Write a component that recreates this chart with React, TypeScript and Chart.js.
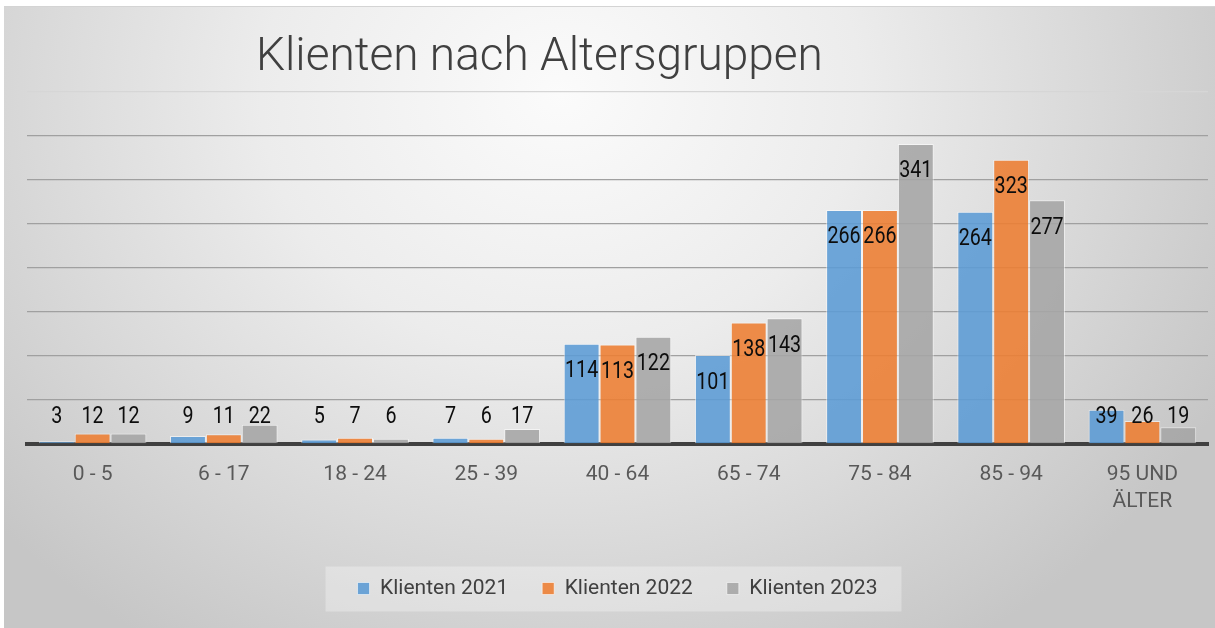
import React, { useEffect, useRef } from "react";
import { Chart, registerables } from "chart.js";

Chart.register(...registerables);

const TITLE = "Klienten nach Altersgruppen";
const categories: (string | string[])[] = [
  "0 - 5",
  "6 - 17",
  "18 - 24",
  "25 - 39",
  "40 - 64",
  "65 - 74",
  "75 - 84",
  "85 - 94",
  ["95 UND", "ÄLTER"],
];
const seriesNames = ["Klienten 2021", "Klienten 2022", "Klienten 2023"];
const klienten2021 = [3, 9, 5, 7, 114, 101, 266, 264, 39];
const klienten2022 = [12, 11, 7, 6, 113, 138, 266, 323, 26];
const klienten2023 = [12, 22, 6, 17, 122, 143, 341, 277, 19];
const seriesValues = [klienten2021, klienten2022, klienten2023];
const seriesColors = [
  "rgba(91,155,213,0.88)",
  "rgba(237,125,49,0.88)",
  "rgba(165,165,165,0.88)",
];
const yMax = 400;
const yStep = 50;

const FONT = "Roboto, 'Liberation Sans', sans-serif";

const valueLabels = {
  id: "valueLabels",
  afterDatasetsDraw(chart: any) {
    const ctx = chart.ctx as CanvasRenderingContext2D;
    ctx.save();
    ctx.font = "400 24px " + FONT;
    ctx.fillStyle = "#0d0d0d";
    ctx.textAlign = "center";
    ctx.textBaseline = "middle";
    chart.data.datasets.forEach((ds: any, di: number) => {
      const meta = chart.getDatasetMeta(di);
      meta.data.forEach((bar: any, i: number) => {
        const { x, y, base } = bar.getProps(["x", "y", "base"], true);
        const cy = Math.min(y + 27.5, base - 26);
        ctx.save();
        ctx.translate(x, cy);
        ctx.scale(0.82, 1);
        ctx.fillText(String(ds.data[i]), 0, 0);
        ctx.restore();
      });
    });
    ctx.restore();
  },
};

const legendBackground = {
  id: "legendBackground",
  beforeDraw(chart: any) {
    const lg = chart.legend;
    if (!lg || !lg.legendHitBoxes || !lg.legendHitBoxes.length) return;
    const hb = lg.legendHitBoxes;
    const first = hb[0];
    const last = hb[hb.length - 1];
    const left = first.left - 32;
    const right = last.left + last.width + 24;
    const mid = first.top + first.height / 2;
    const ctx = chart.ctx as CanvasRenderingContext2D;
    ctx.save();
    ctx.fillStyle = "rgba(255,255,255,0.3)";
    ctx.fillRect(left, mid - 22, right - left, 45);
    ctx.restore();
  },
};

const titleShift = {
  id: "titleShift",
  afterLayout(chart: any) {
    const tb = chart.titleBlock;
    if (tb) {
      tb.left = 256;
      tb.right = 1215;
    }
  },
};

export default function App() {
  const ref = useRef<HTMLCanvasElement>(null);

  useEffect(() => {
    if (!ref.current) return;
    const chart = new Chart(ref.current, {
      type: "bar",
      data: {
        labels: categories,
        datasets: seriesNames.map((name, i) => ({
          label: name,
          data: seriesValues[i],
          backgroundColor: seriesColors[i],
          borderColor: "rgba(255,255,255,0.55)",
          borderWidth: 1,
          categoryPercentage: 0.82,
          barPercentage: 1,
        })),
      },
      options: {
        responsive: false,
        animation: false,
        layout: { padding: { left: 27, right: 7, top: 0, bottom: 19 } },
        plugins: {
          title: {
            display: true,
            text: TITLE,
            align: "start",
            color: "#404040",
            font: { family: FONT, size: 46, weight: "300", lineHeight: 1.2 },
            padding: { top: 30.5, bottom: 6.3 },
          },
          legend: {
            position: "bottom",
            labels: {
              boxWidth: 12,
              boxHeight: 12,
              padding: 34,
              color: "#404040",
              font: { family: FONT, size: 21 },
            },
          },
          tooltip: { enabled: false },
        },
        scales: {
          x: {
            grid: { display: false, drawTicks: false },
            border: { display: true, color: "#404040", width: 4 },
            ticks: {
              color: "#595959",
              font: { family: FONT, size: 21, lineHeight: 1.25 },
              padding: 18,
              maxRotation: 0,
              autoSkip: false,
            },
            afterFit: (s: any) => {
              s.height = 100;
            },
          },
          y: {
            min: 0,
            max: yMax,
            ticks: { display: false, stepSize: yStep },
            grid: {
              color: (c: any) => (c.tick && c.tick.value === yMax ? "#d6d6d6" : "#a0a0a0"),
              lineWidth: 1.3,
              drawTicks: false,
            },
            border: { display: false },
          },
        },
      },
      plugins: [valueLabels, legendBackground, titleShift],
    } as any);
    return () => chart.destroy();
  }, []);

  return (
    <div
      style={{
        position: "fixed",
        left: 0,
        top: 0,
        width: 1215,
        height: 628,
        background: "#ffffff",
        overflow: "hidden",
      }}
    >
      <div
        style={{
          position: "absolute",
          left: 4,
          top: 6,
          right: 0,
          bottom: 0,
          borderTop: "1px solid #d4d4d4",
          background:
            "radial-gradient(ellipse 62% 105% at 46% 14%, #fbfbfb 0%, #ececec 40%, #d8d8d8 72%, #c6c6c6 100%)",
        }}
      />
      <canvas
        ref={ref}
        width={1215}
        height={628}
        style={{ position: "absolute", left: 0, top: 0 }}
      />
    </div>
  );
}
